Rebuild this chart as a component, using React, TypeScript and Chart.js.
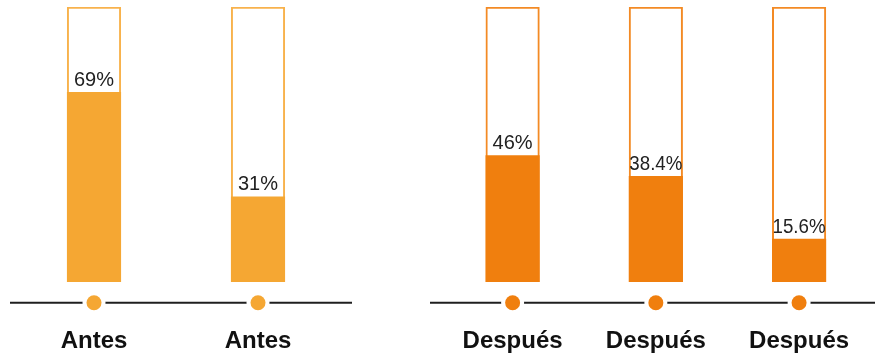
import React, { useEffect, useRef } from "react";
import { Chart, registerables } from "chart.js";

Chart.register(...registerables);

const beforeLabels = ["Antes", "Antes"];
const beforeValues = [69, 31];
const beforeText = ["69%", "31%"];

const afterLabels = ["Después", "Después", "Después"];
const afterValues = [46, 38.4, 15.6];
const afterText = ["46%", "38.4%", "15.6%"];

const FULL = 100;

type PanelProps = {
  labels: string[];
  values: number[];
  texts: string[];
  fill: string;
  border: string;
  padding: { left: number; right: number; top: number; bottom: number };
  lineStart: number;
  lineEnd: number;
  width: number;
  left: number;
};

function Panel(props: PanelProps) {
  const ref = useRef<HTMLCanvasElement | null>(null);
  useEffect(() => {
    if (!ref.current) return;
    const decor = {
      id: "decor",
      afterDatasetsDraw(chart: any) {
        const ctx = chart.ctx;
        const xs = chart.scales.x;
        const ys = chart.scales.y;
        const axisY = 302.7;
        ctx.save();
        // axis line
        ctx.strokeStyle = "#1f1f1f";
        ctx.lineWidth = 2;
        ctx.beginPath();
        ctx.moveTo(props.lineStart, axisY);
        ctx.lineTo(props.lineEnd, axisY);
        ctx.stroke();
        props.values.forEach((v, i) => {
          const cx = xs.getPixelForValue(i);
          // dot with white ring
          ctx.fillStyle = "#ffffff";
          ctx.beginPath();
          ctx.arc(cx, axisY, 11.5, 0, Math.PI * 2);
          ctx.fill();
          ctx.fillStyle = props.fill;
          ctx.beginPath();
          ctx.arc(cx, axisY, 7.5, 0, Math.PI * 2);
          ctx.fill();
          // category label
          ctx.fillStyle = "#111111";
          ctx.font = "bold 24px 'Liberation Sans', Arial, sans-serif";
          ctx.textAlign = "center";
          ctx.textBaseline = "alphabetic";
          ctx.fillText(props.labels[i], cx, 347.5);
          // value label
          const top = ys.getPixelForValue(v);
          ctx.fillStyle = "#222222";
          ctx.font = "20px 'Liberation Sans', Arial, sans-serif";
          ctx.fillText(props.texts[i], cx, top - 6.5, 53);
        });
        ctx.restore();
      },
    };
    const chart = new Chart(ref.current, {
      type: "bar",
      data: {
        labels: props.labels,
        datasets: [
          {
            data: props.values,
            backgroundColor: props.fill,
            borderWidth: 0,
            barThickness: 53.5,
            grouped: false,
            order: 1,
          } as any,
          {
            data: props.values.map(() => FULL),
            backgroundColor: "#ffffff",
            borderColor: props.border,
            borderWidth: 2,
            borderSkipped: false,
            barThickness: 53.5,
            grouped: false,
            order: 2,
          } as any,
        ],
      },
      options: {
        animation: false,
        responsive: false,
        maintainAspectRatio: false,
        layout: { padding: props.padding },
        plugins: { legend: { display: false }, tooltip: { enabled: false } },
        scales: {
          x: { display: false, offset: true },
          y: { display: false, min: 0, max: FULL },
        },
      },
      plugins: [decor],
    });
    return () => chart.destroy();
  }, []);
  return (
    <canvas
      ref={ref}
      width={props.width}
      height={356}
      style={{ position: "absolute", left: props.left, top: 0, width: props.width, height: 356 }}
    />
  );
}

export default function App() {
  useEffect(() => {
    document.body.style.margin = "0";
  }, []);
  return (
    <div style={{ position: "relative", width: 875, height: 356, background: "#ffffff", overflow: "hidden" }}>
      <Panel
        labels={beforeLabels}
        values={beforeValues}
        texts={beforeText}
        fill="#F5A733"
        border="#F8B24C"
        padding={{ left: 12, right: 20, top: 7, bottom: 74 }}
        lineStart={10}
        lineEnd={352}
        width={360}
        left={0}
      />
      <Panel
        labels={afterLabels}
        values={afterValues}
        texts={afterText}
        fill="#F07F0E"
        border="#F38A24"
        padding={{ left: 21, right: 4.3, top: 7, bottom: 74 }}
        lineStart={10}
        lineEnd={455}
        width={455}
        left={420}
      />
    </div>
  );
}
